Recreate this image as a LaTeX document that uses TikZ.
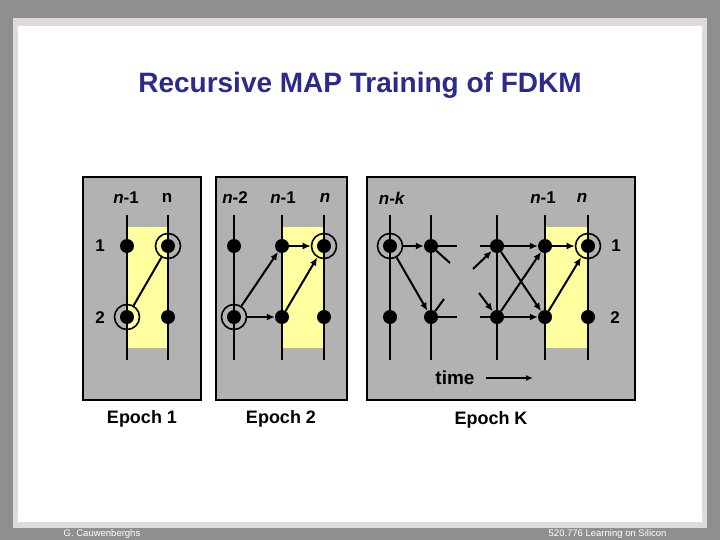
\documentclass[tikz,border=0pt]{standalone}
\usepackage{fontspec}
\setmainfont{Liberation Sans}
\usepackage{xcolor}
\usepackage{tikz}
\usetikzlibrary{arrows.meta}

\definecolor{slidegray}{RGB}{143,143,143}
\definecolor{framegray}{RGB}{224,219,219}
\definecolor{panelgray}{RGB}{178,178,178}
\definecolor{hiyellow}{RGB}{255,255,160}
\definecolor{titleblue}{RGB}{43,43,140}

\begin{document}
\begin{tikzpicture}[x=1pt,y=-1pt,
  dot/.style={circle,fill=black,inner sep=0pt,minimum size=14pt},
  ring/.style={circle,draw=black,line width=1.6pt,inner sep=0pt,minimum size=25pt},
  wire/.style={line width=2pt},
  flow/.style={line width=2pt,-{Latex[length=8pt,width=7pt]}},
  panel/.style={fill=panelgray,draw=black,line width=1.8pt},
  lab/.style={font=\fontsize{17}{17}\selectfont\bfseries},
  epoch/.style={font=\fontsize{18}{18}\selectfont\bfseries}]
\useasboundingbox (0,0) rectangle (720,540);

% slide background
\fill[slidegray] (0,0) rectangle (720,540);
\fill[framegray] (13,18) rectangle (707,528);
\fill[white] (18,26) rectangle (702,522);

\node[font=\fontsize{28}{28}\selectfont\bfseries,text=titleblue] (title) at (360,85) {Recursive MAP Training of FDKM};

% epoch 1
\filldraw[panel] (83,177) rectangle (201,400);
\fill[hiyellow] (127,227) rectangle (168,348);
\draw[wire] (127,215) -- (127,360);
\draw[wire] (168,215) -- (168,360);
\node[lab] (ta1) at (126,198) {\textit{n}-1};
\node[lab] (ta2) at (167,198) {n};
\node[lab] (ra) at (100,246) {1};
\node[lab] (rb) at (100,318) {2};
\node[dot] (a11) at (127,246) {};
\node[dot] (a12) at (168,246) {};
\node[dot] (a21) at (127,317) {};
\node[dot] (a22) at (168,317) {};
\node[ring] (ca12) at (a12) {};
\node[ring] (ca21) at (a21) {};
\draw[wire] (ca21) -- (ca12);
\node[epoch] (ep1) at (142,419) {Epoch 1};

% epoch 2
\filldraw[panel] (216,177) rectangle (347,400);
\fill[hiyellow] (282,227) rectangle (324,348);
\draw[wire] (234,215) -- (234,360);
\draw[wire] (282,215) -- (282,360);
\draw[wire] (324,215) -- (324,360);
\node[lab] (tb1) at (235,198) {\textit{n}-2};
\node[lab] (tb2) at (283,198) {\textit{n}-1};
\node[lab] (tb3) at (325,198) {\textit{n}};
\node[dot] (b11) at (234,246) {};
\node[dot] (b12) at (282,246) {};
\node[dot] (b13) at (324,246) {};
\node[dot] (b21) at (234,317) {};
\node[dot] (b22) at (282,317) {};
\node[dot] (b23) at (324,317) {};
\node[ring] (cb13) at (b13) {};
\node[ring] (cb21) at (b21) {};
\draw[flow] (cb21) -- (b12);
\draw[flow] (cb21) -- (b22);
\draw[flow] (b12) -- (cb13);
\draw[flow] (b22) -- (cb13);
\node[epoch] (ep2) at (281,419) {Epoch 2};

% epoch K
\filldraw[panel] (367,177) rectangle (635,400);
\fill[hiyellow] (545,227) rectangle (588,348);
\draw[wire] (390,215) -- (390,360);
\draw[wire] (431,215) -- (431,360);
\draw[wire] (497,215) -- (497,360);
\draw[wire] (545,215) -- (545,360);
\draw[wire] (588,215) -- (588,360);
\node[lab] (tk1) at (392,198) {\textit{n}-\textit{k}};
\node[lab] (tk2) at (543,198) {\textit{n}-1};
\node[lab] (tk3) at (582,198) {\textit{n}};
\node[lab] (rc) at (616,246) {1};
\node[lab] (rd) at (615,318) {2};
\node[dot] (k11) at (390,246) {};
\node[dot] (k12) at (431,246) {};
\node[dot] (k13) at (497,246) {};
\node[dot] (k14) at (545,246) {};
\node[dot] (k15) at (588,246) {};
\node[dot] (k21) at (390,317) {};
\node[dot] (k22) at (431,317) {};
\node[dot] (k23) at (497,317) {};
\node[dot] (k24) at (545,317) {};
\node[dot] (k25) at (588,317) {};
\node[ring] (ck11) at (k11) {};
\node[ring] (ck15) at (k15) {};

\coordinate (s1) at (457,246);
\coordinate (s2) at (450,263);
\coordinate (s3) at (457,317);
\coordinate (s4) at (444,299);
\coordinate (s5) at (480,246);
\coordinate (s6) at (473,269);
\coordinate (s7) at (480,317);
\coordinate (s8) at (479,293);

\draw[flow] (ck11) -- (k12);
\draw[flow] (ck11) -- (k22);
\draw[wire] (k12) -- (s1);
\draw[wire] (k12) -- (s2);
\draw[wire] (k22) -- (s3);
\draw[wire] (k22) -- (s4);
\draw[wire] (s5) -- (k13);
\draw[flow] (s6) -- (k13);
\draw[wire] (s7) -- (k23);
\draw[flow] (s8) -- (k23);
\draw[flow] (k13) -- (k14);
\draw[flow] (k13) -- (k24);
\draw[flow] (k23) -- (k14);
\draw[flow] (k23) -- (k24);
\draw[flow] (k14) -- (ck15);
\draw[flow] (k24) -- (ck15);

\node[font=\fontsize{19}{19}\selectfont\bfseries] (time) at (455,378) {time};
\coordinate (t0) at (486,378);
\coordinate (t1) at (533,378);
\draw[line width=1.4pt,-{Latex[length=7pt,width=6pt]}] (t0) -- (t1);
\node[epoch] (epk) at (491,420) {Epoch K};

% footer
\node[font=\fontsize{9.5}{9.5}\selectfont,text=white] (auth) at (102,534) {G. Cauwenberghs};
\node[font=\fontsize{9.5}{9.5}\selectfont,text=white,anchor=east] (course) at (670,534) {520.776 Learning on Silicon};
\end{tikzpicture}
\end{document}
